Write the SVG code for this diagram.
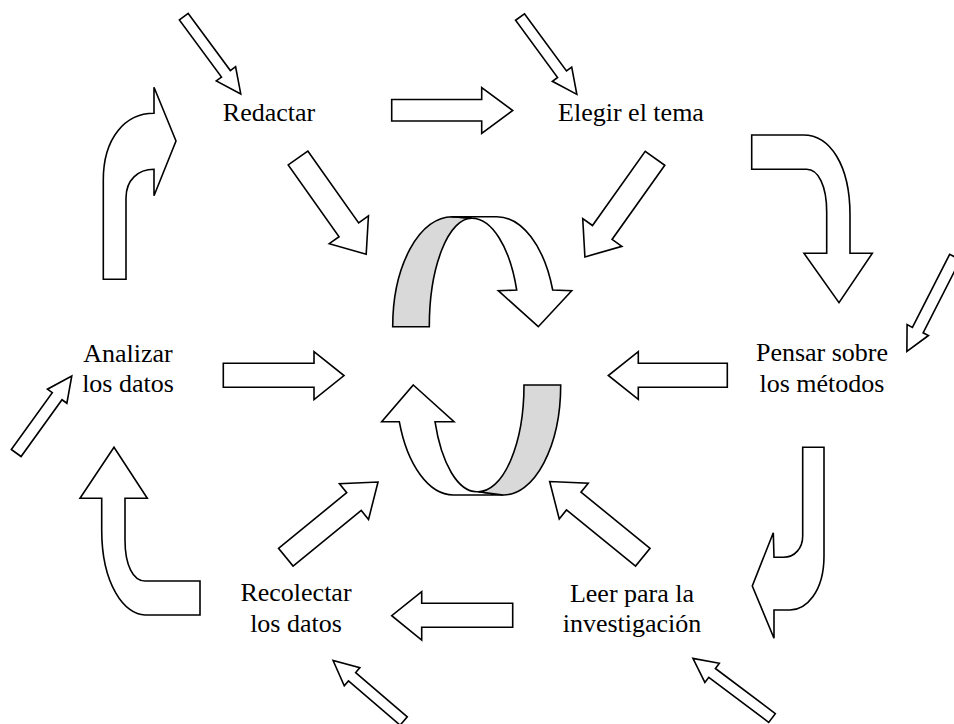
<svg xmlns="http://www.w3.org/2000/svg" width="954" height="724" viewBox="0 0 954 724">
<style>
  .lbl { font-family: "Liberation Serif", "Times New Roman", serif; font-size: 26px; fill: #000; text-anchor: middle; }
  .ar { fill: #fff; stroke: #000; stroke-width: 1.6; stroke-linejoin: miter; }
  .gr { fill: #d9d9d9; stroke: #000; stroke-width: 1.6; }
</style>
<rect width="954" height="724" fill="#fff"/>
<g id="connectors">
  <!-- small diagonal arrows -->
  <polygon class="ar" transform="translate(183.8,16.7) rotate(53.6)" points="0,-5.5 71,-5.5 71,-12 96,0 71,12 71,5.5 0,5.5"/>
  <polygon class="ar" transform="translate(520,17) rotate(53.7)" points="0,-5.5 71,-5.5 71,-12 96,0 71,12 71,5.5 0,5.5"/>
  <polygon class="ar" transform="translate(955,257) rotate(117)" points="0,-6 82,-6 82,-12 106,0 82,12 82,6 0,6"/>
  <polygon class="ar" transform="translate(16.2,453) rotate(-54.2)" points="0,-6 70,-6 70,-12 95,0 70,12 70,6 0,6"/>
  <polygon class="ar" transform="translate(403.7,721) rotate(-139.4)" points="0,-5.5 68,-5.5 68,-12 93,0 68,12 68,5.5 0,5.5"/>
  <polygon class="ar" transform="translate(772,718) rotate(-143)" points="0,-5.5 75,-5.5 75,-12 99,0 75,12 75,5.5 0,5.5"/>
  <!-- horizontal arrows -->
  <polygon class="ar" points="391.7,99.5 481.7,99.5 481.7,87.5 512.7,110.5 481.7,133.5 481.7,121 391.7,121"/>
  <polygon class="ar" points="223.3,363.3 314,363.3 314,351.7 344,375.5 314,399.5 314,387.3 223.3,387.3"/>
  <polygon class="ar" points="727.3,363.3 638.3,363.3 638.3,351.7 608.3,375.5 638.3,399.3 638.3,387.3 727.3,387.3"/>
  <polygon class="ar" points="512.7,603.3 421.7,603.3 421.7,591.7 391.7,615.7 421.7,640 421.7,627.3 512.7,627.3"/>
  <!-- medium diagonal arrows -->
  <polygon class="ar" transform="translate(298,158) rotate(54.7)" points="0,-12 88,-12 88,-24 118,0 88,24 88,12 0,12"/>
  <polygon class="ar" transform="translate(655,158.3) rotate(125.4)" points="0,-12 91,-12 91,-24 121,0 91,24 91,12 0,12"/>
  <polygon class="ar" transform="translate(285.8,557.2) rotate(-39.2)" points="0,-11.5 88,-11.5 88,-23 119,0 88,23 88,11.5 0,11.5"/>
  <polygon class="ar" transform="translate(642.8,557.2) rotate(-140.9)" points="0,-11.5 89,-11.5 89,-23 120,0 89,23 89,11.5 0,11.5"/>
  <!-- bent arrows -->
  <path class="ar" d="M103.3,279.3 L103.3,180 C103.3,138 125,113.3 154,113.3 L154,87.3 L176,141 L154,195.7 L154,169.3 C138,169.3 126,180 126,198 L126,279.3 Z"/>
  <path class="ar" d="M751.7,135 L803.3,135 C830,135 850,165 850,215 L850,253.3 L872.3,253.3 L839,302.7 L804,253.3 L826.7,253.3 L826.7,212 C826.7,185 818,169.3 806.7,169.3 L751.7,169.3 Z"/>
  <path class="ar" d="M802.7,447.3 L824,447.3 L824,556 C824,592 806,610 790,610 L774,610 L774,638.3 L752.3,586 L773.3,532.7 L774,557.3 L783.3,557.3 C795,557.3 802.7,548 802.7,536 Z"/>
  <path class="ar" d="M200,581 L145,581 C133,581 125,565 125,540 L125,498.3 L147.3,498.3 L114,447.3 L80,498.3 L101.7,498.3 L101.7,530 C101.7,585 125,615 145,615 L200,615 Z"/>
  <!-- central circular arrows -->
  <path class="gr" d="M392.7,326.7 A59.3,110 0 0 1 452,216.7 L471.7,218.3 A42.4,108.4 0 0 0 429.3,326.7 Z"/>
  <path class="ar" d="M452,216.7 L496.7,216.7 A59.3,110 0 0 1 552.7,290 L571.7,290.7 L538.3,326.7 L498.3,290.7 L516.7,290 A47.8,108.4 0 0 0 471.7,218.3 Z"/>
  <path class="ar" d="M413.3,385 L454,421.7 L435,421.7 A44.4,106.7 0 0 0 476.7,491.7 L478.3,491.7 L503.3,495 L453.3,495 A57.3,110 0 0 1 399.3,421.7 L381.7,421.7 Z"/>
  <path class="gr" d="M524,385 L560.7,385 A57.4,110 0 0 1 503.3,495 L478.3,491.7 A45.7,106.7 0 0 0 524,385 Z"/>
</g>
<g id="node-redactar"><text class="lbl" x="269" y="121">Redactar</text></g>
<g id="node-elegir"><text class="lbl" x="631" y="121">Elegir el tema</text></g>
<g id="node-pensar"><text class="lbl" x="822" y="361">Pensar sobre</text><text class="lbl" x="822" y="392">los métodos</text></g>
<g id="node-leer"><text class="lbl" x="632" y="602">Leer para la</text><text class="lbl" x="632" y="632">investigación</text></g>
<g id="node-recolectar"><text class="lbl" x="296" y="601">Recolectar</text><text class="lbl" x="296" y="632">los datos</text></g>
<g id="node-analizar"><text class="lbl" x="128" y="362">Analizar</text><text class="lbl" x="128" y="392">los datos</text></g>
</svg>
